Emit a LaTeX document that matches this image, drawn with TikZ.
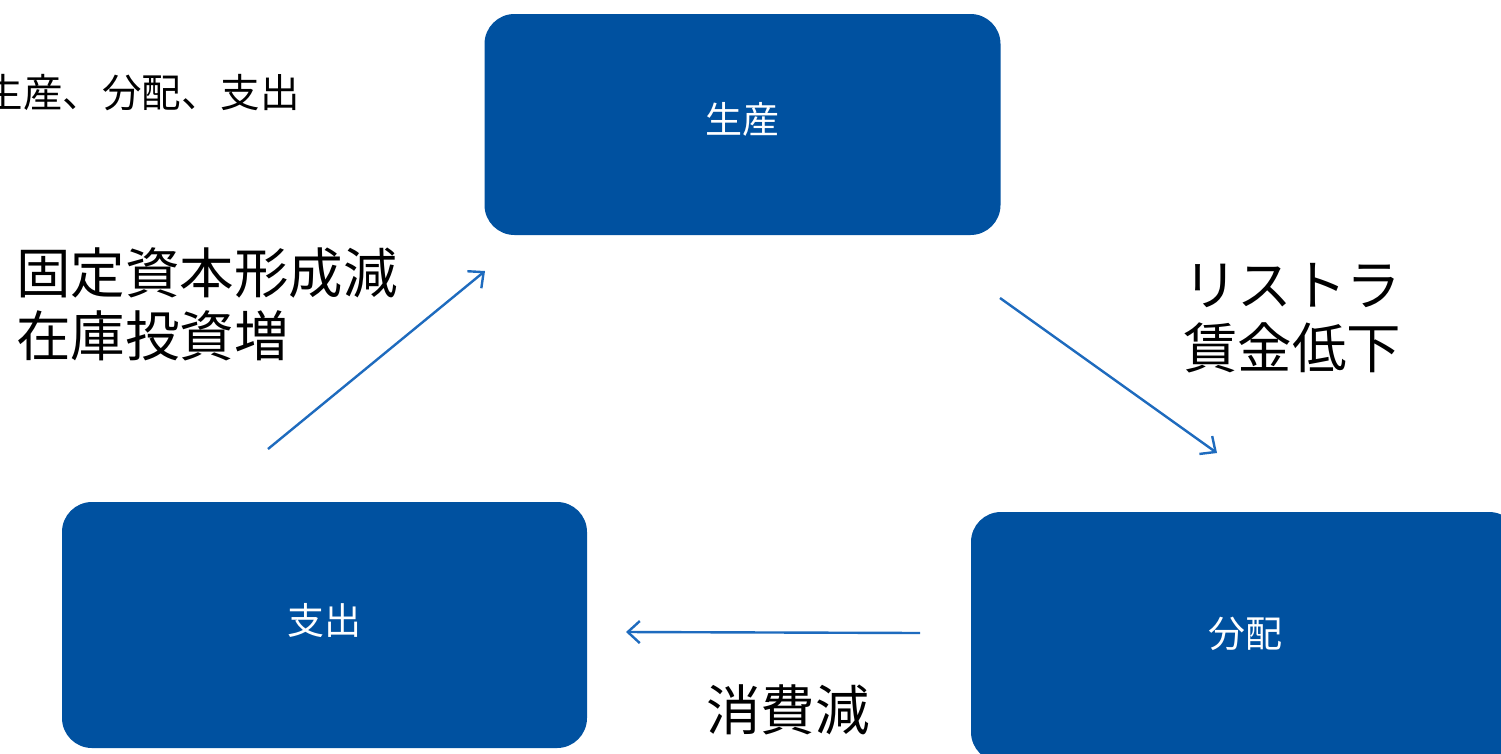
\documentclass[tikz,border=0pt]{standalone}
\usepackage{fontspec}
\newfontfamily\jp{Noto Sans CJK JP}
\usetikzlibrary{arrows.meta}
\definecolor{boxblue}{HTML}{0051A0}
\definecolor{arrowblue}{HTML}{1E6BBE}
\begin{document}
\begin{tikzpicture}[x=1pt,y=-1pt,
  box/.style={fill=boxblue,draw=none,rounded corners=30pt,text=white,font=\jp\fontsize{37}{40}\selectfont},
  biglabel/.style={font=\jp\fontsize{54.5}{63}\selectfont,align=left,inner sep=0pt,anchor=west},
  flow/.style={draw=arrowblue,line width=2.4pt,-{Straight Barb[length=12pt,width=22pt,line width=2.4pt]}}]
\useasboundingbox (0,0) rectangle (1501,753);
\fill[white] (0,0) rectangle (1501,753);
% boxes
\node[box,minimum width=516pt,minimum height=221pt] (prod) at (742.5,124.5) {\raisebox{13pt}{生産}};
\node[box,minimum width=525pt,minimum height=246pt] (spend) at (324.5,625) {\raisebox{12pt}{支出}};
\node[box,minimum width=548pt,minimum height=250pt] (dist) at (1245,637) {\raisebox{9pt}{分配}};
% top-left text
\node[font=\jp\fontsize{39.5}{40}\selectfont,inner sep=0pt,anchor=east] (title) at (300,93) {生産、分配、支出};
% labels
\node[biglabel] (l1) at (16,304) {固定資本形成減\\在庫投資増};
\node[biglabel] (l2) at (1183,318) {リストラ\\賃金低下};
\node[biglabel] (l3) at (706,710) {消費減};
% arrow end points
\coordinate (a1s) at (268,449);
\coordinate (a1e) at (485,271);
\coordinate (a2s) at (1000,298);
\coordinate (a2e) at (1217,453);
\coordinate (a3s) at (920,633);
\coordinate (a3e) at (626,632);
\draw[flow] (a1s) -- (a1e);
\draw[flow] (a2s) -- (a2e);
\draw[flow] (a3s) -- (a3e);
\end{tikzpicture}
\end{document}
